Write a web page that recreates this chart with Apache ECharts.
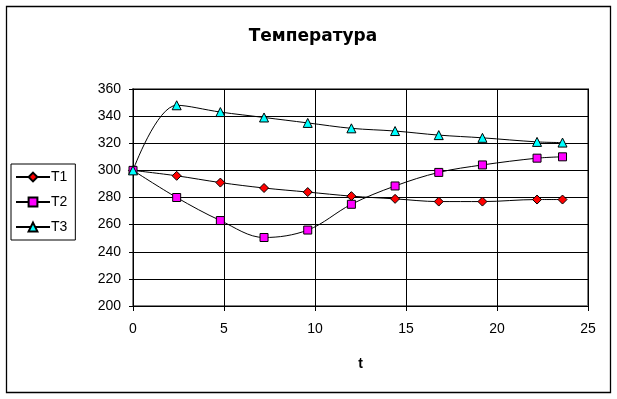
<!DOCTYPE html>
<html>
<head>
<meta charset="utf-8">
<script src="https://cdn.jsdelivr.net/npm/echarts@6/dist/echarts.min.js"></script>
<style>
  html, body { margin: 0; padding: 0; background: #fff; }
  #chart { width: 617px; height: 399px; }
</style>
</head>
<body>
<div id="chart"></div>
<script>
// time points (x) and temperatures
const tValues = [0, 2.4, 4.8, 7.2, 9.6, 12, 14.4, 16.8, 19.2, 22.2, 23.6]
const t1 = [300, 296, 291, 287, 284, 281, 279, 277, 277, 278.5, 278.5]
const t2 = [300, 280, 263, 250.5, 256, 275, 288.5, 298.5, 304, 309, 310]
const t3 = [300, 348, 343, 339, 335, 331, 329, 326, 324, 321, 320.5]
const seriesNames = ['T1', 'T2', 'T3']

const chart = echarts.init(document.getElementById('chart'))

function pairs(ys) {
  return tValues.map((x, i) => [x, ys[i]])
}

const font = 'Liberation Sans, Arial, sans-serif'

chart.setOption({
  animation: false,
  textStyle: { fontFamily: font },
  // outer chart-area frame
  graphic: [{
    type: 'rect',
    shape: { x: 6.5, y: 6.5, width: 604, height: 386 },
    style: { fill: 'none', stroke: '#000', lineWidth: 1.3 },
    silent: true
  }],
  title: {
    text: 'Температура',
    left: 308,
    top: 23,
    textAlign: 'center',
    textStyle: { fontSize: 17, fontWeight: 'bold', color: '#000', fontFamily: 'DejaVu Sans' }
  },
  legend: {
    orient: 'vertical',
    left: 11,
    top: 164,
    width: 66,
    padding: [6, 8, 6, 4],
    itemGap: 11,
    itemWidth: 34,
    itemHeight: 11,
    borderColor: '#000',
    borderWidth: 1,
    textStyle: { fontSize: 14, color: '#000', fontFamily: font, padding: [0, 0, 0, -4] },
    data: seriesNames
  },
  grid: {
    left: 133,
    top: 89,
    width: 455,
    height: 217,
    show: true,
    borderColor: '#808080',
    borderWidth: 2,
    backgroundColor: '#fff'
  },
  xAxis: {
    type: 'value',
    min: 0,
    max: 25,
    interval: 5,
    name: 't',
    nameLocation: 'middle',
    nameGap: 51,
    nameTextStyle: { fontSize: 14, fontWeight: 'bold', color: '#000', fontFamily: font },
    axisLine: { lineStyle: { color: '#000', width: 1 } },
    axisTick: { show: true, length: 5, lineStyle: { color: '#000' } },
    axisLabel: { fontSize: 14, color: '#000', margin: 16, fontFamily: font },
    splitLine: { show: true, lineStyle: { color: '#000', width: 1 } }
  },
  yAxis: {
    type: 'value',
    min: 200,
    max: 360,
    interval: 20,
    axisLine: { show: true, lineStyle: { color: '#000', width: 1 } },
    axisTick: { show: true, length: 4, lineStyle: { color: '#000' } },
    axisLabel: { fontSize: 14, color: '#000', margin: 12, fontFamily: font },
    splitLine: { show: true, lineStyle: { color: '#000', width: 1 } }
  },
  series: [
    {
      name: 'T1',
      type: 'line',
      smooth: 0.35,
      data: pairs(t1),
      symbol: 'diamond',
      symbolSize: 9,
      lineStyle: { color: '#000', width: 1 },
      itemStyle: { color: '#ff0000', borderColor: '#000', borderWidth: 1 }
    },
    {
      name: 'T2',
      type: 'line',
      smooth: 0.35,
      data: pairs(t2),
      symbol: 'rect',
      symbolSize: 8,
      lineStyle: { color: '#000', width: 1 },
      itemStyle: { color: '#ff00ff', borderColor: '#000', borderWidth: 1 }
    },
    {
      name: 'T3',
      type: 'line',
      smooth: 0.35,
      data: pairs(t3),
      symbol: 'triangle',
      symbolSize: 9,
      lineStyle: { color: '#000', width: 1 },
      itemStyle: { color: '#00ffff', borderColor: '#000', borderWidth: 1 }
    }
  ]
})
</script>
</body>
</html>
